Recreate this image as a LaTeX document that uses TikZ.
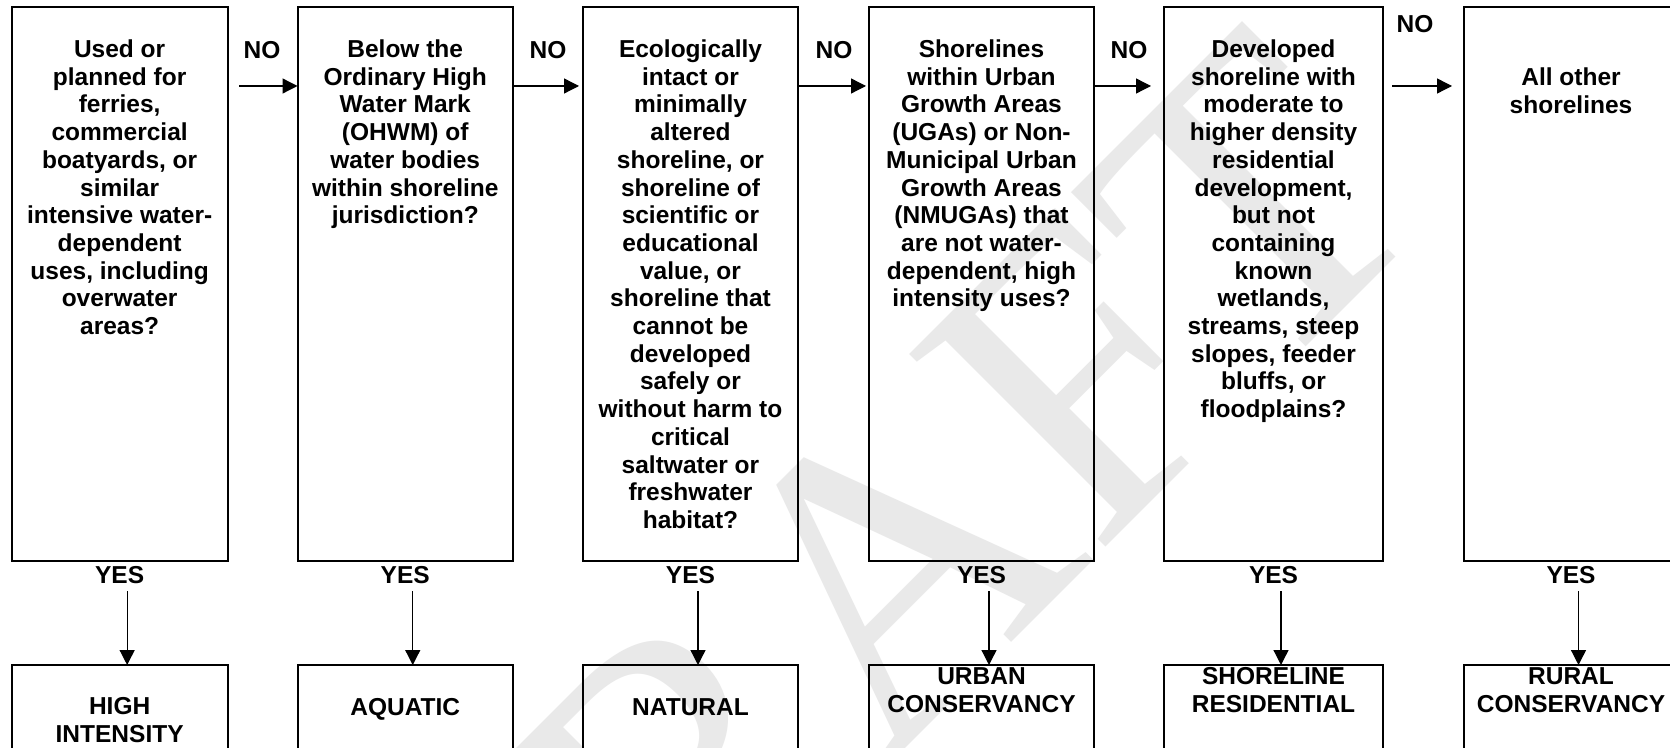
\documentclass[tikz,border=0pt]{standalone}
\usepackage{fontspec}
\setmainfont{Liberation Sans}
\newfontfamily\wmfont{Liberation Serif}
\usetikzlibrary{arrows.meta}
\newcommand\qfont{\fontsize{12.25}{13.85}\selectfont\bfseries}
\begin{document}
\begin{tikzpicture}[x=0.5pt,y=-0.5pt,
  qbox/.style={draw, line width=1pt, inner sep=0pt, outer sep=0pt},
  qtext/.style={align=center, anchor=north, inner sep=0pt, font=\qfont, execute at begin node=\strut},
  lbl/.style={anchor=base, inner sep=0pt, font=\qfont},
  arr/.style={line width=0.65pt, -{Triangle[length=7.5pt,width=7.5pt]}},
  topbox/.style={qbox, minimum height=276.75pt},
  botbox/.style={qbox, minimum height=52.5pt}
]
\useasboundingbox (0,0) rectangle (1670,748);
\clip (0,0) rectangle (1670,748);
\fill[white] (0,0) rectangle (1670,748);
% watermark
\node[rotate=45, font=\wmfont\fontsize{210}{210}\selectfont, text=gray!17, inner sep=0pt] (wm) at (858,600) {DRAFT};

% top boxes
\node[topbox, minimum width=107.85pt] (b1) at (119.65,284.25) {};
\node[topbox, minimum width=107.75pt] (b2) at (405.25,284.25) {};
\node[topbox, minimum width=107.5pt]  (b3) at (690.5,284.25) {};
\node[topbox, minimum width=112.5pt]  (b4) at (981.5,284.25) {};
\node[topbox, minimum width=109.5pt]  (b5) at (1273.5,284.25) {};
\node[topbox, minimum width=107pt]    (b6) at (1571,284.25) {};

% bottom boxes
\node[botbox, minimum width=107.85pt] (h1) at (119.65,717.5) {};
\node[botbox, minimum width=107.75pt] (h2) at (405.25,717.5) {};
\node[botbox, minimum width=107.5pt]  (h3) at (690.5,717.5) {};
\node[botbox, minimum width=112.5pt]  (h4) at (981.5,717.5) {};
\node[botbox, minimum width=109.5pt]  (h5) at (1273.5,717.5) {};
\node[botbox, minimum width=107pt]    (h6) at (1571,717.5) {};

% question texts
\node[qtext] (t1) at (119.65,39.4) {Used or\\planned for\\ferries,\\commercial\\boatyards, or\\similar\\intensive water-\\dependent\\uses, including\\overwater\\areas?};
\node[qtext] (t2) at (405.25,39.4) {Below the\\Ordinary High\\Water Mark\\(OHWM) of\\water bodies\\within shoreline\\jurisdiction?};
\node[qtext] (t3) at (690.5,39.4) {Ecologically\\intact or\\minimally\\altered\\shoreline, or\\shoreline of\\scientific or\\educational\\value, or\\shoreline that\\cannot be\\developed\\safely or\\without harm to\\critical\\saltwater or\\freshwater\\habitat?};
\node[qtext] (t4) at (981.5,39.4) {Shorelines\\within Urban\\Growth Areas\\(UGAs) or Non-\\Municipal Urban\\Growth Areas\\(NMUGAs) that\\are not water-\\dependent, high\\intensity uses?};
\node[qtext] (t5) at (1273.5,39.4) {Developed\\shoreline with\\moderate to\\higher density\\residential\\development,\\but not\\containing\\known\\wetlands,\\streams, steep\\slopes, feeder\\bluffs, or\\floodplains?};
\node[qtext] (t6) at (1571,67.4) {All other\\shorelines};

% result texts
\node[qtext] (r1) at (119.65,697.4) {HIGH\\INTENSITY};
\node[lbl] (r2) at (405.25,715.8) {AQUATIC};
\node[lbl] (r3) at (690.5,715.8) {NATURAL};
\node[qtext] (r4) at (981.5,667.4) {URBAN\\CONSERVANCY};
\node[qtext] (r5) at (1273.5,667.4) {SHORELINE\\RESIDENTIAL};
\node[qtext] (r6) at (1571,667.4) {RURAL\\CONSERVANCY};

% NO labels
\node[lbl] (n1) at (262,58.8) {NO};
\node[lbl] (n2) at (548,58.8) {NO};
\node[lbl] (n3) at (834,58.8) {NO};
\node[lbl] (n4) at (1129,58.8) {NO};
\node[lbl] (n5) at (1415,32.8) {NO};

% YES labels
\node[lbl] (y1) at (119.65,583.8) {YES};
\node[lbl] (y2) at (405.25,583.8) {YES};
\node[lbl] (y3) at (690.5,583.8) {YES};
\node[lbl] (y4) at (981.5,583.8) {YES};
\node[lbl] (y5) at (1273.5,583.8) {YES};
\node[lbl] (y6) at (1571,583.8) {YES};

% horizontal NO arrows
\coordinate (s1) at (239,86);
\draw[arr] (s1) -- (s1 -| b2.west);
\coordinate (e2) at (579,86);
\draw[arr] (e2 -| b2.east) -- (e2);
\coordinate (e3) at (866,86);
\draw[arr] (e3 -| b3.east) -- (e3);
\coordinate (e4) at (1151,86);
\draw[arr] (e4 -| b4.east) -- (e4);
\coordinate (s5) at (1392,86);
\coordinate (e5) at (1452,86);
\draw[arr] (s5) -- (e5);

% vertical YES arrows
\coordinate (v1) at (127.15,591);
\coordinate (v2) at (412.75,591);
\coordinate (v3) at (698,591);
\coordinate (v4) at (989,591);
\coordinate (v5) at (1281,591);
\coordinate (v6) at (1578.5,591);
\draw[arr] (v1) -- (v1 |- h1.north);
\draw[arr] (v2) -- (v2 |- h2.north);
\draw[arr] (v3) -- (v3 |- h3.north);
\draw[arr] (v4) -- (v4 |- h4.north);
\draw[arr] (v5) -- (v5 |- h5.north);
\draw[arr] (v6) -- (v6 |- h6.north);
\end{tikzpicture}
\end{document}
